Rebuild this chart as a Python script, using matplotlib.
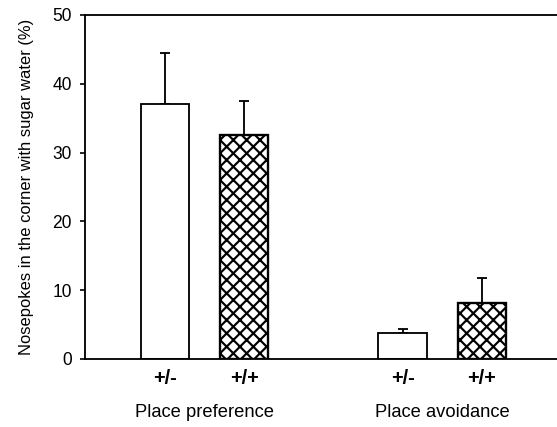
import matplotlib.pyplot as plt
import numpy as np

plt.rcParams['font.family'] = ['Liberation Sans', 'DejaVu Sans']
plt.rcParams['hatch.linewidth'] = 1.3

# data
genotypes = ["+/-", "+/+", "+/-", "+/+"]
groups = ["Place preference", "Place avoidance"]
means = [37.0, 32.5, 3.8, 8.2]
errors = [7.5, 5.0, 0.5, 3.6]
hatches = ["", "xxx", "", "xxx"]

positions = np.array([1, 2, 4, 5])
group_centers = [1.5, 4.5]

fig = plt.figure(figsize=(557 / 120, 427 / 120), dpi=120)
ax = fig.add_axes([0.1526, 0.1593, 0.8474, 0.8056])

for pos, m, e, h in zip(positions, means, errors, hatches):
    ax.bar(pos, m, width=0.61, color="white", edgecolor="black",
           linewidth=1.1 if h == "" else 1.4, hatch=h, zorder=2)
    ax.errorbar(pos, m, yerr=[[0], [e]], fmt="none", ecolor="black",
                elinewidth=1.1, capsize=2.8, capthick=1.1, zorder=1)

ax.set_xlim(-0.01, 5.95)
ax.set_ylim(0, 50)
ax.set_yticks(range(0, 51, 10))
ax.set_xticks(positions)
ax.set_xticklabels(genotypes, fontweight="bold", fontsize=12)
ax.tick_params(axis="x", length=0, pad=6)
ax.tick_params(axis="y", length=3, width=1, direction="out", labelsize=10.5, pad=5)
ax.set_ylabel("Nosepokes in the corner with sugar water (%)", fontsize=9.9, labelpad=11)

for c, g in zip(group_centers, groups):
    ax.text(c, -0.157, g, transform=ax.get_xaxis_transform(), ha="center",
            va="center", fontsize=11)

for s in ["left", "top", "bottom"]:
    ax.spines[s].set_linewidth(1.1)
ax.spines["right"].set_visible(False)

fig.savefig("out.png", dpi=120)
